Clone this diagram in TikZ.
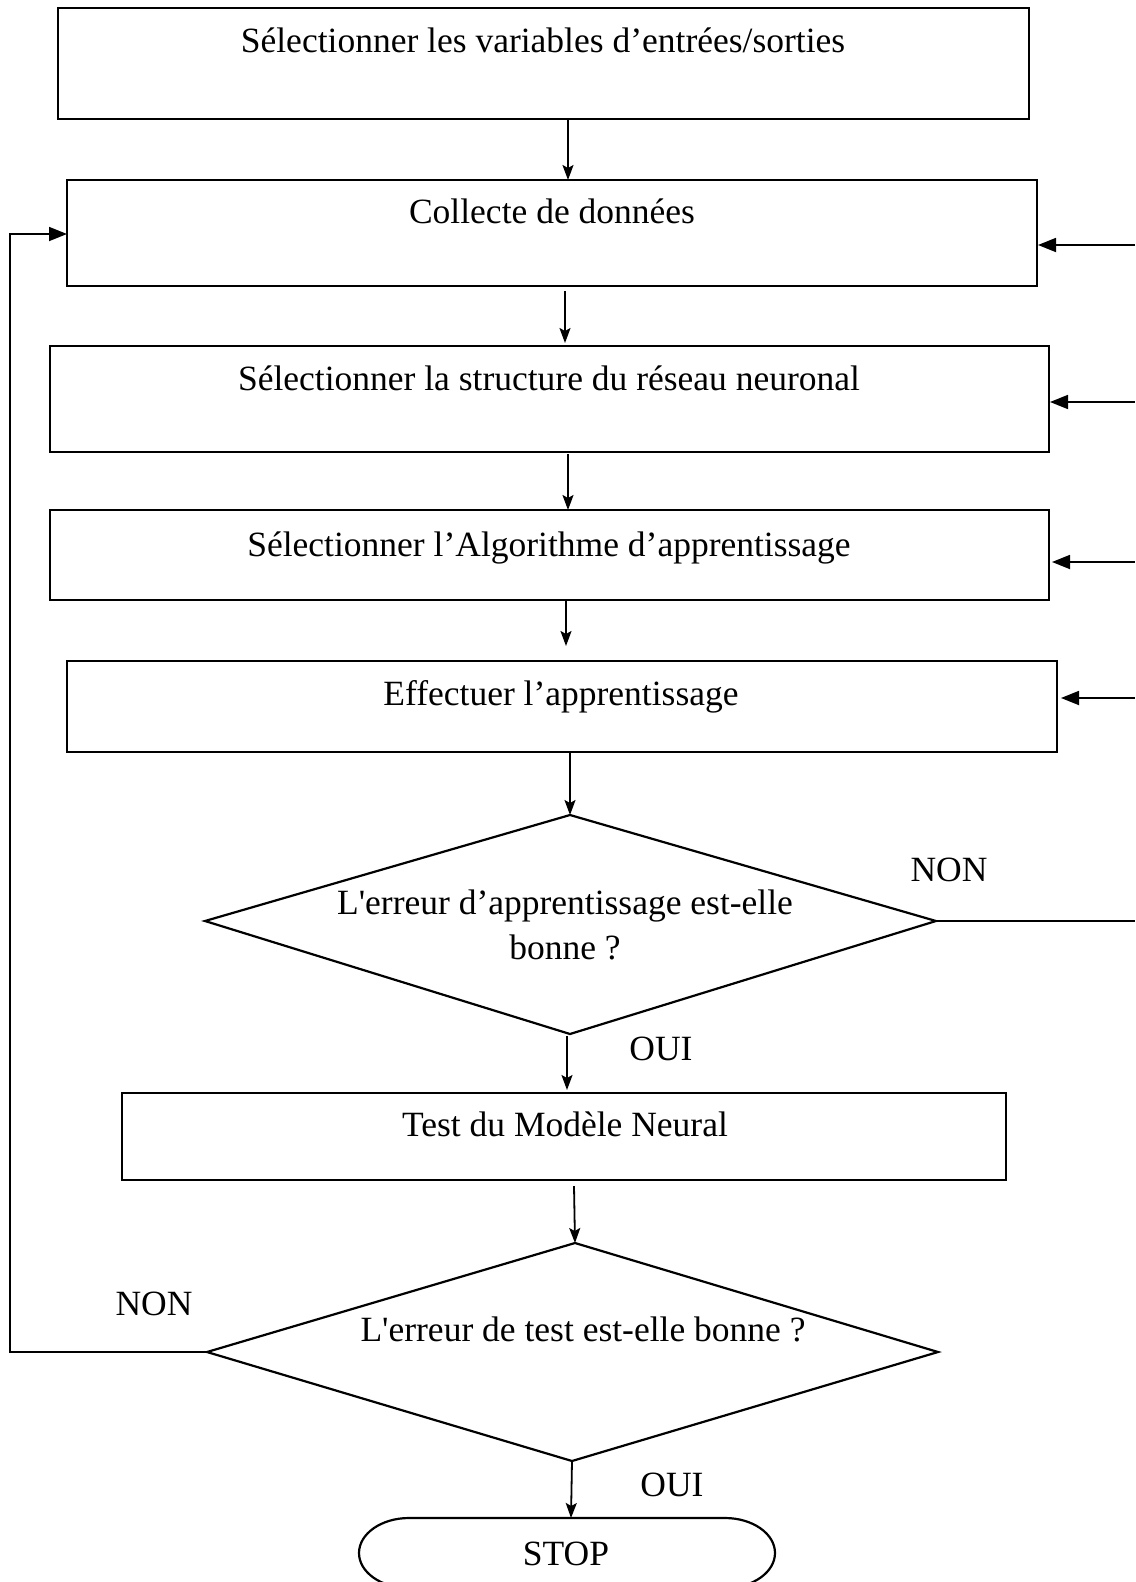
\documentclass[tikz,border=0pt]{standalone}
\usepackage{fontspec}
\setmainfont{Liberation Serif}[Ligatures=TeXOff]
\usetikzlibrary{arrows.meta}
\begin{document}
\begin{tikzpicture}[x=1pt,y=-1pt,
  box/.style={draw,line width=2.2pt},
  lbl/.style={font=\fontsize{35.5}{45}\selectfont,inner sep=0pt,anchor=base,align=center},
  flow/.style={line width=1.8pt,-{Stealth[length=15pt,width=11pt,inset=3pt]}},
  feed/.style={line width=1.8pt,-{Triangle[length=18pt,width=14pt]}},
  wire/.style={line width=1.8pt}]
\useasboundingbox (0,0) rectangle (1135,1582);
\clip (0,0) rectangle (1135,1582);

% process boxes
\draw[box] (58,8) rectangle (1029,119);
\draw[box] (67,180) rectangle (1037,286);
\draw[box] (50,346) rectangle (1049,452);
\draw[box] (50,510) rectangle (1049,600);
\draw[box] (67,661) rectangle (1057,752);
\draw[box] (122,1093) rectangle (1006,1180);

\node[lbl] (t1) at (543,52) {Sélectionner les variables d’entrées/sorties};
\node[lbl] (t2) at (552,223) {Collecte de données};
\node[lbl] (t3) at (549,390) {Sélectionner la structure du réseau neuronal};
\node[lbl] (t4) at (549,556) {Sélectionner l’Algorithme d’apprentissage};
\node[lbl] (t5) at (561,705) {Effectuer l’apprentissage};
\node[lbl] (t6) at (565,1136) {Test du Modèle Neural};

% decision 1
\coordinate (d1t) at (570,815);
\coordinate (d1l) at (205,921);
\coordinate (d1r) at (936,921);
\coordinate (d1b) at (570,1034);
\draw[box,line join=miter] (d1t) -- (d1r) -- (d1b) -- (d1l) -- cycle;
\node[lbl] (q1) at (565,959) {L'erreur d’apprentissage est-elle\\bonne ?};

% decision 2
\coordinate (d2t) at (575,1243);
\coordinate (d2l) at (207,1352);
\coordinate (d2r) at (938,1352);
\coordinate (d2b) at (572,1461);
\draw[box,line join=miter] (d2t) -- (d2r) -- (d2b) -- (d2l) -- cycle;
\node[lbl] (q2) at (583,1341) {L'erreur de test est-elle bonne ?};

% terminal
\draw[box] (409,1518) -- (725,1518)
  arc[start angle=-90,end angle=90,x radius=50,y radius=35]
  -- (409,1588)
  arc[start angle=90,end angle=270,x radius=50,y radius=35] -- cycle;
\node[lbl] (stop) at (566,1565) {STOP};

% answer labels
\node[lbl] (non1) at (949,881) {NON};
\node[lbl] (oui1) at (661,1060) {OUI};
\node[lbl] (non2) at (154,1315) {NON};
\node[lbl] (oui2) at (672,1496) {OUI};

% main flow
\draw[flow] (568,119) -- (568,180);
\draw[flow] (565,291) -- (565,343);
\draw[flow] (568,454) -- (568,510);
\draw[flow] (566,600) -- (566,646);
\draw[flow] (570,752) -- (d1t);
\draw[flow] (567,1036) -- (567,1090);
\draw[flow] (574,1186) -- (d2t);
\draw[flow] (d2b) -- (571,1518);

% loop back to data collection
\coordinate (lp) at (10,1352);
\coordinate (lq) at (10,234);
\draw[feed] (d2l) -- (lp) -- (lq) -- (67,234);

% feedback from the right-hand side
\draw[wire] (d1r) -- (1135,921);
\draw[feed] (1135,245) -- (1038,245);
\draw[feed] (1135,402) -- (1050,402);
\draw[feed] (1135,562) -- (1052,562);
\draw[feed] (1135,698) -- (1061,698);
\end{tikzpicture}
\end{document}
